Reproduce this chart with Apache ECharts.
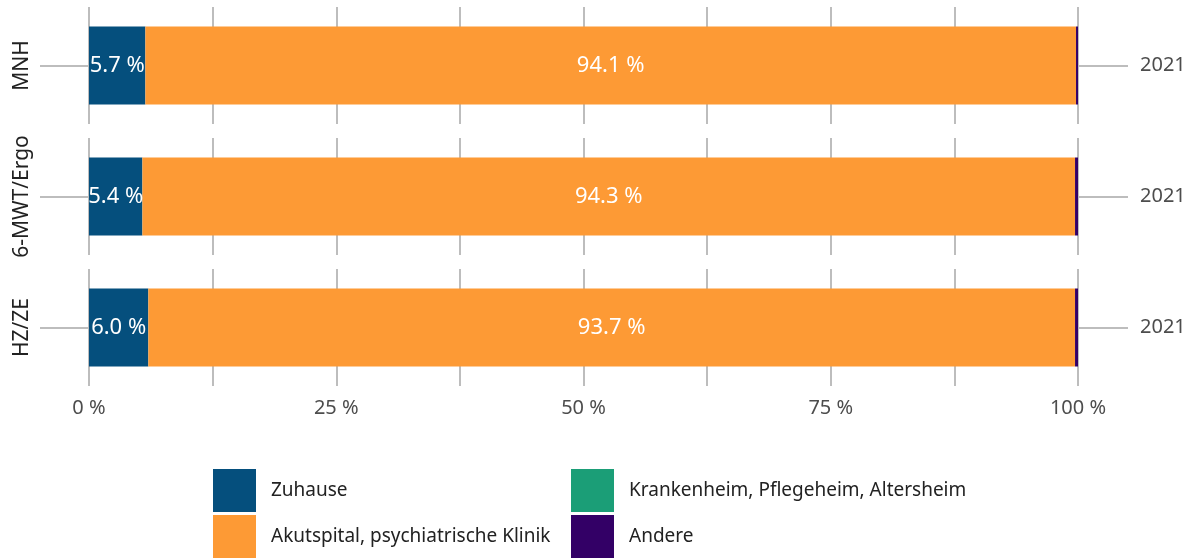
<!DOCTYPE html>
<html>
<head>
<meta charset="utf-8">
<script src="https://cdn.jsdelivr.net/npm/echarts@6/dist/echarts.min.js"></script>
<style>
  html, body { margin: 0; padding: 0; background: #fff; }
  #chart { width: 1194px; height: 559px; }
</style>
</head>
<body>
<div id="chart"></div>
<script>
const panels = ['MNH', '6-MWT/Ergo', 'HZ/ZE'];
const years = ['2021'];
const seriesNames = ['Zuhause', 'Akutspital, psychiatrische Klinik', 'Krankenheim, Pflegeheim, Altersheim', 'Andere'];
const colors = ['#054f7d', '#fd9a35', '#1b9e77', '#330066'];
// one value per panel
const zuhause = [5.7, 5.4, 6.0];
const akut = [94.1, 94.3, 93.7];
const kranken = [0, 0, 0];
const andere = [0.2, 0.3, 0.3];
const values = [zuhause, akut, kranken, andere];
const xTicks = [0, 25, 50, 75, 100];

const font = 'Noto Sans';
const chart = echarts.init(document.getElementById('chart'));

const grids = [], xAxes = [], yAxes = [], series = [];
panels.forEach((p, i) => {
    grids.push({ left: 89, right: 116, top: 7 + i * 131, height: 117 });
    xAxes.push({
        type: 'value', gridIndex: i, min: 0, max: 100, interval: 12.5,
        axisLine: { show: false }, axisTick: { show: false },
        splitLine: { lineStyle: { color: '#bdbdbd', width: 2 } },
        axisLabel: {
            show: i === panels.length - 1, margin: 12,
            color: '#4d4d4d', fontSize: 20, fontFamily: font,
            formatter: v => xTicks.indexOf(v) >= 0 ? v + ' %' : ''
        }
    });
    yAxes.push({
        type: 'category', gridIndex: i, data: years, position: 'left',
        name: p, nameLocation: 'middle', nameRotate: 90, nameGap: 56,
        nameTextStyle: { color: '#222', fontSize: 21, fontFamily: font },
        axisLine: { show: false },
        axisTick: { show: true, alignWithLabel: true, length: 49, lineStyle: { color: '#bdbdbd', width: 2 } },
        axisLabel: { show: false }
    });
    yAxes.push({
        type: 'category', gridIndex: i, data: years, position: 'right',
        axisLine: { show: false },
        axisTick: { show: true, alignWithLabel: true, length: 50, lineStyle: { color: '#bdbdbd', width: 2 } },
        axisLabel: { margin: 62, color: '#4d4d4d', fontSize: 20, fontFamily: font }
    });
    seriesNames.forEach((n, k) => {
        series.push({
            name: n, type: 'bar', stack: 'p' + i,
            xAxisIndex: i, yAxisIndex: i * 2,
            barWidth: 78, itemStyle: { color: colors[k] },
            label: {
                show: k < 2, position: 'inside', color: '#fff',
                fontSize: 22, fontFamily: font,
                formatter: d => d.value.toFixed(1) + ' %'
            },
            data: [values[k][i]]
        });
    });
});

function legendAt(left, names) {
    return {
        orient: 'vertical', left: left, top: 469, padding: 0,
        itemWidth: 43, itemHeight: 43, itemGap: 3,
        icon: 'rect', selectedMode: false, data: names,
        textStyle: { color: '#222', fontSize: 19, fontFamily: font, padding: [0, 0, 0, 10] }
    };
}

chart.setOption({
    animation: false,
    color: colors,
    grid: grids,
    xAxis: xAxes,
    yAxis: yAxes,
    legend: [
        legendAt(213, seriesNames.slice(0, 2)),
        legendAt(571, seriesNames.slice(2, 4))
    ],
    series: series
});
</script>
</body>
</html>
